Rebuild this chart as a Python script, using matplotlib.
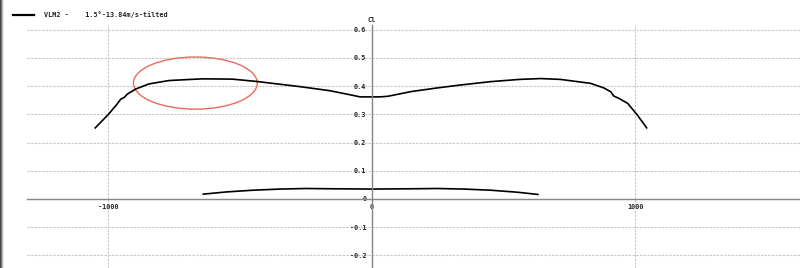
import matplotlib
matplotlib.use("Agg")
import matplotlib.pyplot as plt
from matplotlib.patches import Ellipse, Rectangle
from matplotlib.lines import Line2D

# span-wise Cl distribution (wing)
wing_x = [-1050, -1000, -970, -953, -940, -928, -896, -846, -770, -644, -530, -440,
          -350, -270, -160, -80, -45, 0, 30, 60, 150, 250, 335, 450, 560, 640, 716,
          830, 880, 907, 918, 937, 971, 1009, 1043]
wing_cl = [0.252, 0.300, 0.333, 0.354, 0.360, 0.372, 0.390, 0.408, 0.420, 0.426, 0.425, 0.417,
           0.407, 0.398, 0.384, 0.369, 0.362, 0.362, 0.362, 0.364, 0.381, 0.394, 0.404, 0.416, 0.424, 0.427, 0.424,
           0.410, 0.394, 0.380, 0.365, 0.357, 0.339, 0.296, 0.252]

# tail
tail_x = [-640, -550, -450, -350, -250, -150, 0, 150, 250, 350, 450, 550, 630]
tail_cl = [0.017, 0.025, 0.031, 0.035, 0.037, 0.036, 0.035, 0.036, 0.037, 0.035, 0.031, 0.024, 0.016]

legend_name = "VLM2 -    1.5°-13.84m/s-tilted"
x_ticks = [-1000, 0, 1000]
y_ticks = [-0.2, -0.1, 0, 0.1, 0.2, 0.3, 0.4, 0.5, 0.6]

mono = "DejaVu Sans Mono"
fs = 4.9

fig = plt.figure(figsize=(8, 2.68), dpi=100)
ax = fig.add_axes([27 / 800, 0, 773 / 800, 243 / 268])
ax.set_xlim(-1309, 1625)
ax.set_ylim(-0.245, 0.617)

ax.plot(wing_x, wing_cl, color="black", lw=1.2)
ax.plot(tail_x, tail_cl, color="black", lw=1.2)

# red highlight
ax.add_patch(Ellipse((-670, 0.411), 470, 0.185, fill=False, edgecolor="#ec6a5c", lw=1.0))

for s in ["top", "right"]:
    ax.spines[s].set_visible(False)
ax.spines["left"].set_position(("data", 0))
ax.spines["bottom"].set_position(("data", 0))
for s in ["left", "bottom"]:
    ax.spines[s].set_color("#888888")
    ax.spines[s].set_linewidth(1.0)

ax.set_xticks(x_ticks)
ax.set_xticklabels([str(t) for t in x_ticks])
ax.set_yticks(y_ticks)
ax.set_yticklabels(["0" if t == 0 else f"{t:.1f}" for t in y_ticks])
ax.tick_params(length=0, labelsize=fs, labelcolor="#222222", pad=4)
for lab in ax.get_xticklabels() + ax.get_yticklabels():
    lab.set_family(mono)
    lab.set_fontweight("bold")

ax.grid(True, ls=(0, (2.2, 1.1)), color="#c8c8c8", lw=0.8)
ax.set_axisbelow(True)

ax.text(0, 0.625, "Cl", ha="center", va="bottom", fontsize=fs, family=mono,
        fontweight="bold", color="#222222", clip_on=False)

# legend
fig.add_artist(Line2D([13 / 800, 34 / 800], [1 - 15 / 268] * 2, color="black", lw=1.6))
fig.text(44 / 800, 1 - 15 / 268, legend_name, fontsize=fs, family=mono, fontweight="bold",
         va="center", color="#222222")

# left window border
for i, c in enumerate(["#444444", "#777777", "#bbbbbb", "#e6e6e6"]):
    fig.add_artist(Rectangle((i / 800, 0), 1 / 800, 1, transform=fig.transFigure, color=c, lw=0))

fig.savefig("out.png", dpi=100)
